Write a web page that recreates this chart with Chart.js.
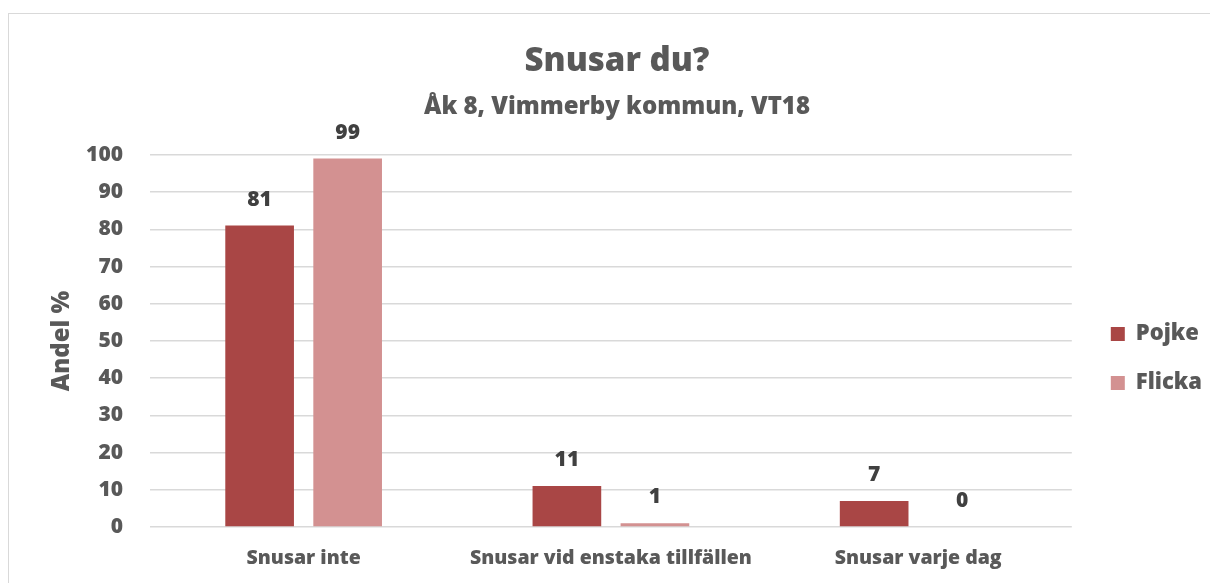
<!DOCTYPE html>
<html>
<head>
<meta charset="utf-8">
<script src="https://cdn.jsdelivr.net/npm/chart.js@4.4.1/dist/chart.umd.min.js"></script>
<style>
  html, body { margin: 0; padding: 0; background: #fff; }
  #wrap { position: relative; width: 1210px; height: 583px; overflow: hidden; }
  #frame { position: absolute; left: 8px; top: 13px; width: 1230px; height: 620px; border: 1px solid #D9D9D9; box-sizing: border-box; }
  #c { position: absolute; left: 0; top: 0; }
</style>
</head>
<body>
<div id="wrap">
  <div id="frame"></div>
  <canvas id="c" width="1210" height="583"></canvas>
</div>
<script>
const categories = ["Snusar inte", "Snusar vid enstaka tillfällen", "Snusar varje dag"];
const pojke = [81, 11, 7];
const flicka = [99, 1, 0];
const seriesNames = ["Pojke", "Flicka"];
const titleText = "Snusar du?";
const subtitleText = "Åk 8, Vimmerby kommun, VT18";
const yAxisTitle = "Andel %";

const FONT = "'Open Sans', sans-serif";
const W = 800;
const GRAY = "#595959";

const dataLabels = {
  id: 'dataLabels',
  afterDatasetsDraw(chart) {
    const ctx = chart.ctx;
    ctx.save();
    ctx.font = W + " 21px " + FONT;
    ctx.fillStyle = "#404040";
    ctx.textAlign = "center";
    ctx.textBaseline = "middle";
    chart.data.datasets.forEach((ds, i) => {
      chart.getDatasetMeta(i).data.forEach((bar, j) => {
        ctx.fillText(String(ds.data[j]), bar.x, bar.y - 26);
      });
    });
    ctx.restore();
  }
};

const legendShift = {
  id: 'legendShift',
  afterLayout(chart) {
    const l = chart.legend;
    if (!l) return;
    l.left += 12; l.right += 12;
    l.top += 46; l.bottom += 46;
  }
};

new Chart(document.getElementById('c'), {
  type: 'bar',
  data: {
    labels: categories,
    datasets: [
      { label: seriesNames[0], data: pojke, backgroundColor: "#A94645", categoryPercentage: 0.573, barPercentage: 0.78 },
      { label: seriesNames[1], data: flicka, backgroundColor: "#D39191", categoryPercentage: 0.573, barPercentage: 0.78 }
    ]
  },
  options: {
    responsive: false,
    animation: false,
    layout: { padding: { left: 34, right: 10, top: 42, bottom: 0 } },
    plugins: {
      title: { display: true, text: titleText, color: GRAY, font: { family: FONT, size: 33, weight: W }, padding: { top: 0, bottom: 11.5 } },
      subtitle: { display: true, text: subtitleText, color: GRAY, font: { family: FONT, size: 24, weight: W }, padding: { top: 0, bottom: 33 } },
      legend: {
        position: 'right',
        labels: { color: GRAY, font: { family: FONT, size: 22, weight: W }, boxWidth: 14, boxHeight: 14, padding: 27 }
      },
      tooltip: { enabled: false }
    },
    scales: {
      x: {
        grid: { display: false, drawTicks: false },
        border: { display: false },
        ticks: { color: GRAY, font: { family: FONT, size: 19.5, weight: W }, padding: 20, maxRotation: 0 },
        afterFit(s) { s.height = 56; }
      },
      y: {
        min: 0, max: 100,
        ticks: { stepSize: 10, color: GRAY, font: { family: FONT, size: 21, weight: W }, padding: 27 },
        grid: { color: "#D9D9D9", lineWidth: 1.5, drawTicks: false },
        border: { display: false },
        title: { display: true, text: yAxisTitle, color: GRAY, font: { family: FONT, size: 24, weight: W }, padding: { top: 14, bottom: 0 } },
        afterFit(s) { s.width = 116; }
      }
    }
  },
  plugins: [dataLabels, legendShift]
});
</script>
</body>
</html>
